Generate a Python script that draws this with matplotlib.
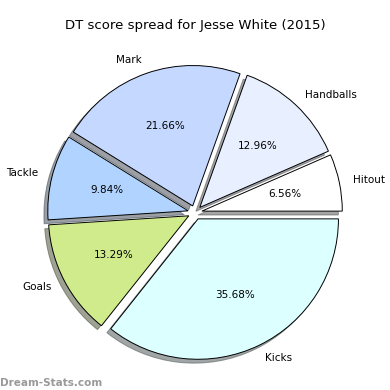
import matplotlib.pyplot as plt

labels = ['Hitout', 'Handballs', 'Mark', 'Tackle', 'Goals', 'Kicks']
values = [6.56, 12.96, 21.66, 9.84, 13.29, 35.68]
colors = ['#ffffff', '#e8f0ff', '#c5d8ff', '#b0d4ff', '#d0eb8c', '#dcffff']
explode = [0.05] * len(values)

fig = plt.figure(figsize=(3.9, 3.9), dpi=100)
ax = fig.add_axes([0.05, 0.005, 0.9, 0.9])
ax.pie(values, labels=labels, colors=colors, explode=explode, autopct='%.2f%%',
       shadow=True, startangle=0, labeldistance=1.1,
       wedgeprops={'edgecolor': 'black', 'linewidth': 0.7},
       textprops={'fontsize': 7.5})
ax.set_aspect('equal')
fig.text(0.5, 0.925, 'DT score spread for Jesse White (2015)', ha='center', fontsize=9.5)
fig.text(0.0, 0.01, 'Dream-Stats.com', color='#999999', fontsize=7.5, fontweight='bold')
fig.savefig('out.png', dpi=100)
